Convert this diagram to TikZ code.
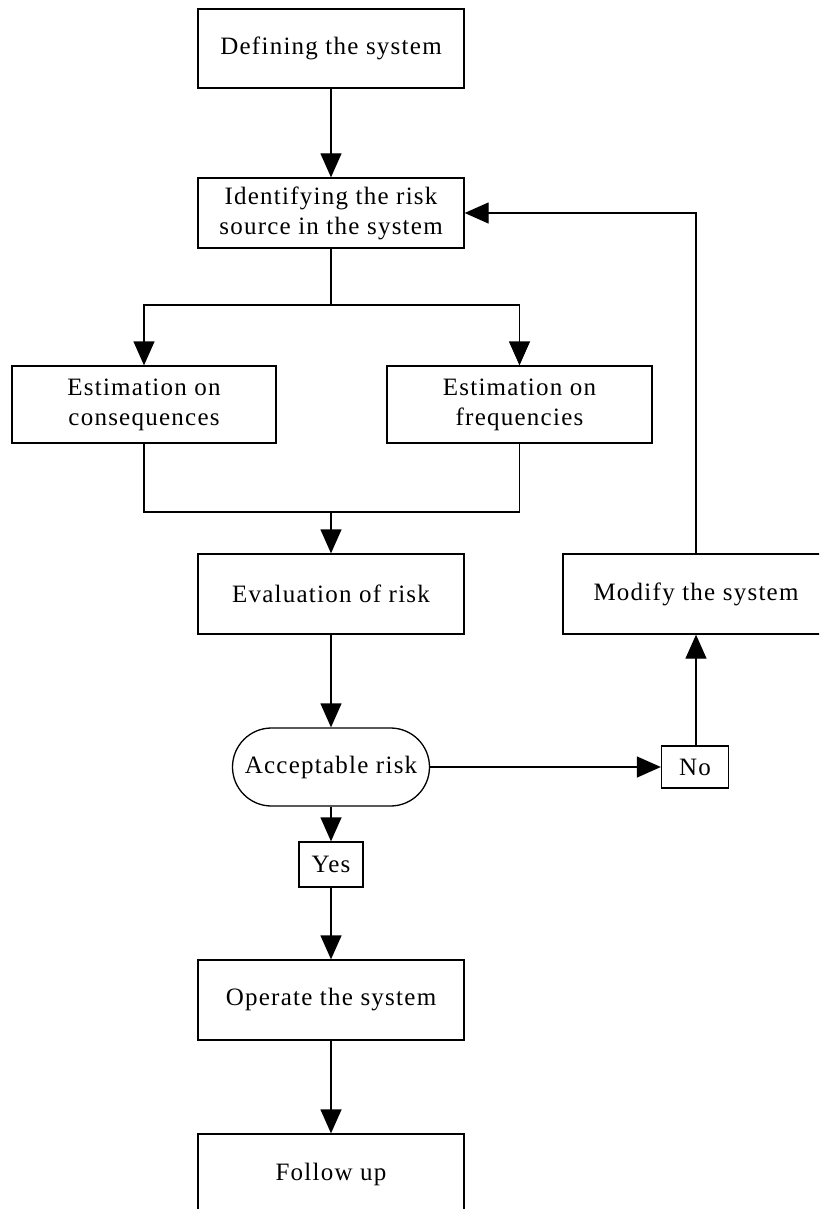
\documentclass[tikz,border=0pt]{standalone}
\usepackage{fontspec}
\setmainfont{Liberation Serif}[LetterSpace=5]
\usepackage{tikz}
\usetikzlibrary{positioning,arrows.meta,calc}

\begin{document}
\begin{tikzpicture}[x=1pt, y=-1pt,
    font=\fontsize{25}{30}\selectfont,
    line width=1.3pt,
    box/.style={draw, rectangle, minimum width=266pt, minimum height=80pt, inner sep=0pt, align=center},
    small/.style={draw, rectangle, minimum height=44pt, inner sep=0pt},
    stadium/.style={draw, rectangle, rounded corners=39pt, minimum width=197pt, minimum height=78pt, inner sep=0pt},
    flow/.style={-{Triangle[length=24pt, width=21pt]}}]
% Page frame
\useasboundingbox (0,0) rectangle (819,1209);
\clip (0,0) rectangle (819,1209);

% Main column
\node[box, minimum height=79pt] (define) at (331,48.5) {Defining the system};
\node[box, minimum height=70pt] (identify) at (331,213) {Identifying the risk\\source in the system};
\node[box, minimum width=264pt, minimum height=77pt] (conseq) at (144,404.5) {Estimation on\\consequences};
\node[box, minimum width=265pt, minimum height=77pt] (freq) at (519.5,404.5) {Estimation on\\frequencies};
\node[box] (evaluate) at (331,594) {Evaluation of risk};
\node[stadium] (accept) at (331,767) {Acceptable risk};
\node[small, minimum width=64pt, minimum height=45pt] (yes) at (331,864.5) {Yes};
\node[box] (operate) at (331,1000) {Operate the system};
\node[box] (follow) at (331,1174) {Follow up};

% Feedback branch
\node[small, minimum width=67pt, minimum height=42pt] (no) at (695,767) {No};
\node[box] (modify) at (696,594) {Modify the system};

% Split and merge points
\coordinate (split) at (331,305);
\coordinate (merge) at (331,512);

% Connectors
\draw[flow] (define) -- (identify);
\draw (identify) -- (split);
\draw[flow] (split) -| (conseq.north);
\draw[flow] (split) -| (freq.north);
\draw (conseq.south) |- (merge);
\draw (freq.south) |- (merge);
\draw[flow] (merge) -- (evaluate);
\draw[flow] (evaluate) -- (accept);
\draw[flow] (accept) -- (no);
\draw[flow] (no.north -| modify.south) -- (modify.south);
\draw[flow] (modify.north) |- (identify.east);
\draw[flow] (accept) -- (yes);
\draw[flow] (yes) -- (operate);
\draw[flow] (operate) -- (follow);
\end{tikzpicture}
\end{document}
